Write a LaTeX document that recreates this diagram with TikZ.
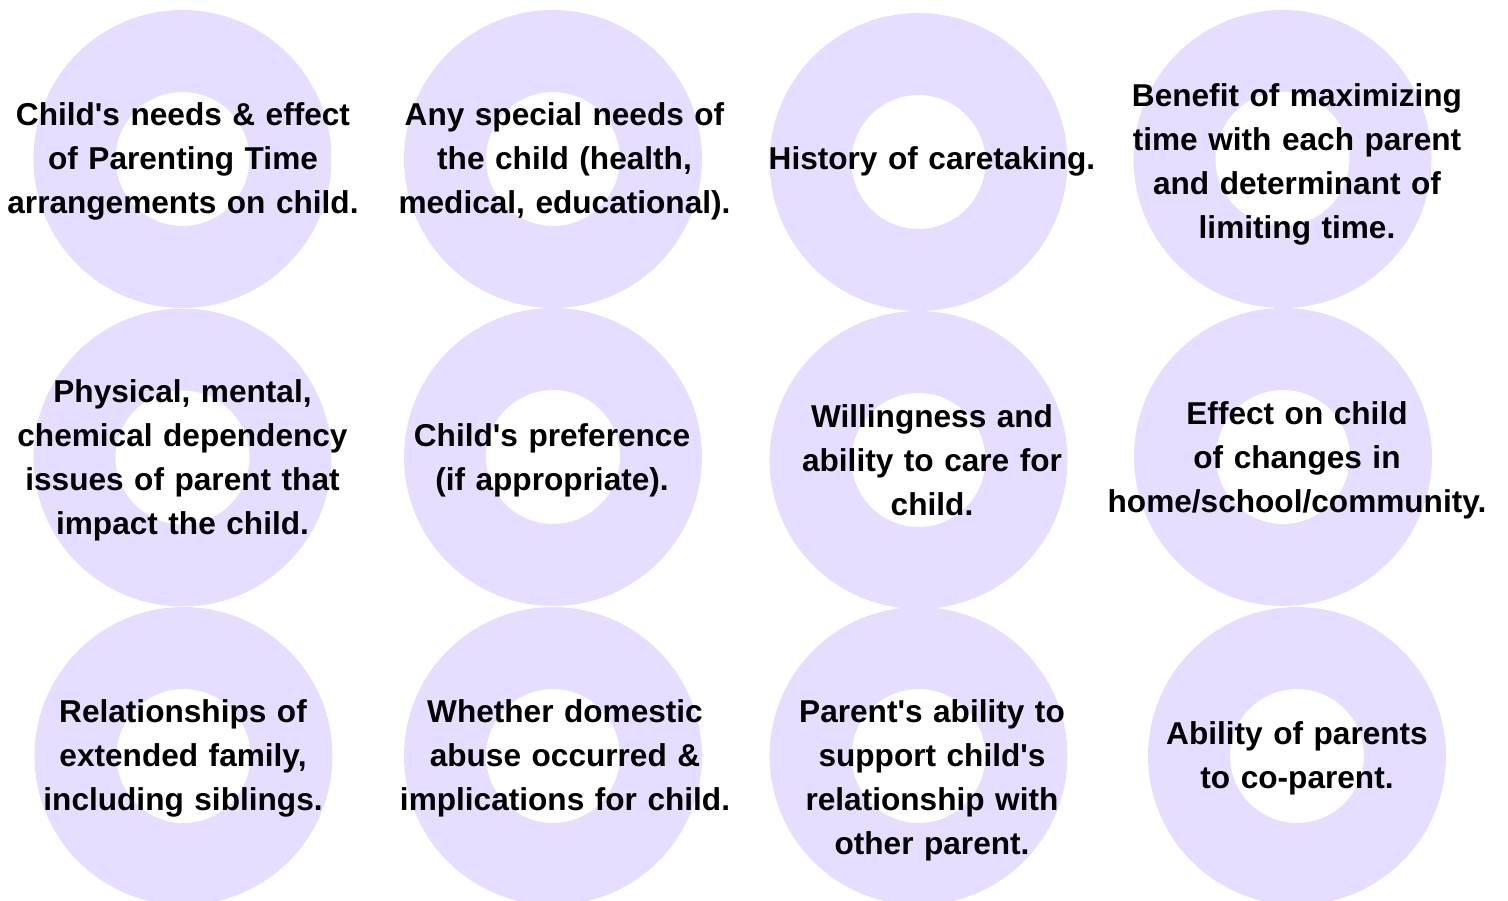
\documentclass[tikz,border=0pt]{standalone}
\usepackage{fontspec}
\setmainfont{Liberation Sans}
\usepackage{xcolor}
\usepackage{tikz}
\definecolor{ringlilac}{RGB}{231,222,255}
\tikzset{
	ring/.style={
			circle, draw=ringlilac, line width=82pt, minimum size=216pt, inner sep=0pt
		},
	factor/.style={
			anchor=base, text width=420pt, align=center, inner sep=0pt,
			font=\bfseries\fontsize{31.6}{44}\selectfont
		}
}

\begin{document}
\begin{tikzpicture}[x=1pt, y=-1pt]
	\useasboundingbox (0,0) rectangle (1508,900);
	\node[ring] (r1) at (182.5,159) {};
	\node[ring] (r2) at (553,159) {};
	\node[ring] (r3) at (918.5,162) {};
	\node[ring] (r4) at (1282.5,159) {};
	\node[ring] (r5) at (182.5,457.5) {};
	\node[ring] (r6) at (553,457) {};
	\node[ring] (r7) at (918.5,460) {};
	\node[ring] (r8) at (1283,457) {};
	\node[ring] (r9) at (183.5,756) {};
	\node[ring] (r10) at (553,756) {};
	\node[ring] (r11) at (918.5,756) {};
	\node[ring] (r12) at (1297,756) {};
	\node[factor] (needs) at (183,125) {Child\textquotesingle s needs \& effect\\of Parenting Time\\arrangements on child.};
	\node[factor] (special) at (564.5,125) {Any special needs of\\the child (health,\\medical, educational).};
	\node[factor] (history) at (932,169) {History of caretaking.};
	\node[factor] (benefit) at (1297,106) {Benefit of maximizing\\time with each parent\\and determinant of\\limiting time.};
	\node[factor] (health) at (182.5,402) {Physical, mental,\\chemical dependency\\issues of parent that\\impact the child.};
	\node[factor] (prefer) at (552,446) {Child\textquotesingle s preference\\(if appropriate).};
	\node[factor] (willing) at (932,427) {Willingness and\\ability to care for\\child.};
	\node[factor] (changes) at (1297,424) {Effect on child\\of changes in\\home/school/community.};
	\node[factor] (family) at (183,722) {Relationships of\\extended family,\\including siblings.};
	\node[factor] (abuse) at (565,722) {Whether domestic\\abuse occurred \&\\implications for child.};
	\node[factor] (support) at (932,722) {Parent\textquotesingle s ability to\\support child\textquotesingle s\\relationship with\\other parent.};
	\node[factor] (coparent) at (1297,744) {Ability of parents\\to co-parent.};
\end{tikzpicture}
\end{document}
